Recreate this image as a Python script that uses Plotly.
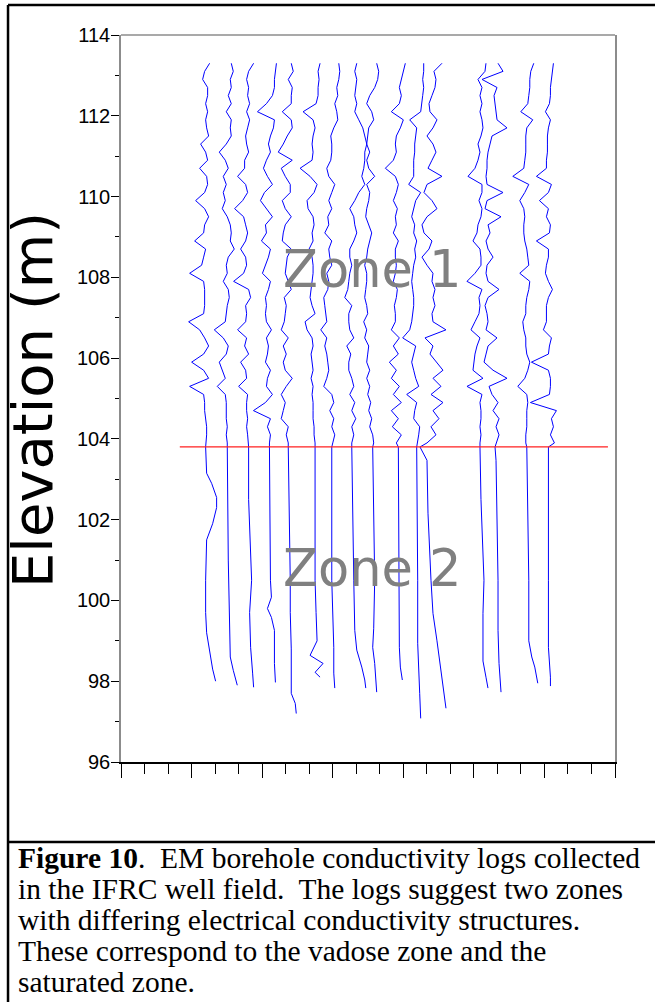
import plotly.graph_objects as go

# ---------------- data ----------------
# shared sampling elevations (m) for the vadose zone (Zone 1)
ELEV_Z1 = [113.3, 113.1, 112.9, 112.7, 112.5, 112.3, 112.1, 111.9, 111.7, 111.5,
           111.3, 111.1, 110.9, 110.7, 110.5, 110.3, 110.1, 109.9, 109.7, 109.5,
           109.3, 109.1, 108.9, 108.7, 108.5, 108.3, 108.1, 107.9, 107.7, 107.5,
           107.3, 107.1, 106.9, 106.7, 106.5, 106.3, 106.1, 105.9, 105.7, 105.5,
           105.3, 105.1, 104.9, 104.7, 104.5, 104.3, 104.1, 103.9]

# horizontal plotting offset of each borehole log (axis units)
LOG_OFFSETS = [3.64, 4.56, 5.34, 6.31, 7.11, 8.25, 8.96, 9.81,
               10.70, 11.79, 12.57, 12.71, 15.26, 15.90, 17.25, 18.17]

# conductivity anomaly scale (axis units per mS/m)
COND_SCALE = 0.0425

# Zone 1 conductivity anomalies (mS/m) at ELEV_Z1
Z1_LOG01 = [3, -2, -4, 1, 1, -1, 1, -1, 0, 2, -6, -1, 1, -7, 0, 1, -2, -11, -2, 2, -2, -3, -12, -1,
            -3, -5, -17, -3, -2, -2, -2, -3, -18, -7, -2, 2, -3, -15, -3, 2, -17, -3, -2, -2, -1, 0, 0, -1]
Z1_LOG02 = [3, 5, 2, 3, 0, 3, -2, 3, 2, 3, -2, -9, -3, 0, -5, -2, -5, -3, -6, -1, 2, 3, 2, 6,
            0, -2, -1, -5, 0, 1, -1, -2, -3, -14, -5, 0, -2, -9, -6, -3, -11, -3, -2, -2, -2, -1, -2, -1]
Z1_LOG03 = [7, 2, 0, 2, 1, 3, 0, 3, 1, -1, 0, 2, -2, -2, -9, -1, 1, -4, -12, -3, -1, 1, -1, -6,
            -1, 0, -3, -13, 2, 4, -1, 0, -1, -9, 0, -2, 2, -6, -1, 0, -8, 1, 0, 0, 1, 0, 1, 2]
Z1_LOG04 = [7, 6, 5, 5, 3, -3, -12, 5, 4, 1, -1, 1, -3, -6, -2, 3, -5, -9, -3, 3, -4, -3, -8, 1,
            -1, -4, -7, 1, -1, -4, -3, -4, -3, 2, -3, -1, -2, -4, 1, -2, -3, 3, -4, -16, 1, -2, 1, 0]
Z1_LOG05 = [3, 5, 0, 4, 3, 3, -6, 3, 4, -1, -5, -10, 4, -7, -3, 2, 2, -6, -3, 3, -3, -5, -6, 3,
            -1, -2, -3, 0, 3, -4, -2, -3, -4, -7, 0, -5, -2, -5, -3, 4, -2, -7, -3, -5, -7, 0, -2, 0]
Z1_LOG06 = [5, 3, 4, 3, 3, 1, -12, -2, 0, -2, -3, -2, -3, -15, -5, 2, -1, -8, -7, -2, -1, -3, -2, -6,
            -3, -2, -2, -3, -4, -5, -3, 0, -10, -8, -3, -2, -4, -3, -2, -4, -2, -3, -2, -2, -2, -1, -1, 0]
Z1_LOG07 = [7, 8, 7, 5, 6, 3, 5, 6, 2, -1, 0, 0, -1, -5, -3, 3, 0, -3, 0, -4, -3, -7, 0, -3,
            -2, 0, -5, -3, -4, -8, -7, -6, -5, -11, -5, -7, -5, -4, -3, -5, -8, 0, 2, -2, 2, 0, 3, 1]
Z1_LOG08 = [5, 3, 5, 4, 3, 5, 3, 7, 11, 13, 15, 13, 13, 12, 10, 13, 7, 3, -2, 2, 3, 5, 2, -2,
            -2, 0, -2, -3, -4, -7, 0, -3, -3, -2, 2, -5, -1, -3, -3, 0, 2, -2, 3, 0, 4, 0, 2, 0]
Z1_LOG09 = [4, 6, 5, 2, -3, -6, -1, 1, -4, -5, -6, -3, -6, -4, 2, -6, -3, -4, -6, -7, -4, -1, -3, -5,
            -6, -8, -6, -6, -7, -8, -6, -5, -9, -6, -8, -4, -5, -6, -3, -6, -3, -5, -2, -4, -1, -3, 0, 1]
Z1_LOG10 = [7, 5, 3, 1, 3, 1, -7, 5, 2, -2, -3, -2, -5, -13, -3, 0, -2, -5, -1, -3, -2, -5, 0, -3,
            -3, -2, -3, -5, -1, -2, -4, -3, -3, -7, 1, -5, 0, -9, -2, -7, 1, -5, 3, -7, 0, -6, 3, -2]
Z1_LOG11 = [7, 7, 6, 7, 6, 5, 4, -7, 0, -1, -2, -2, -3, -3, -3, -8, 4, -1, -3, -5, -2, -3, 0, -2,
            -1, -3, -4, -5, -4, -3, -3, -4, -5, -7, -14, -1, -3, -5, -3, -1, 2, -10, 0, -2, -3, 3, 2, 1]
Z1_LOG12 = [22, 14, 16, 15, 12, 9, 10, 17, 13, 7, 13, 16, 12, 8, 22, 7, 4, 12, 17, 7, 2, 4, 12, 9,
            2, 7, 13, 12, 15, 13, 15, 12, 13, 26, 5, 13, 10, 17, 23, 13, 21, 11, 23, 13, 19, 11, 16, 7]
Z1_LOG13 = [6, 5, -2, 2, 0, 2, 0, 2, 3, 1, -2, 0, -2, -5, -12, 2, 2, -1, 2, 1, -2, -3, -7, 0,
            1, 1, -5, -13, 2, -1, 0, -1, -5, -9, 0, -3, -5, -6, -7, 3, -13, 2, 0, 1, 1, 0, 1, 0]
Z1_LOG14 = [3, 8, -13, 2, -1, 0, 1, 2, 12, -3, -5, -7, -8, -8, -9, -8, 8, -8, -10, 6, -7, -5, -9, -7,
            -2, -8, -9, -7, 4, -7, -10, -8, -7, -9, 2, -7, -9, -11, -2, 12, -6, -3, 3, -2, 4, 1, 4, 1]
Z1_LOG15 = [7, 4, 3, 3, 2, 1, -6, 6, 0, -1, -1, -1, -2, -3, -14, 2, -2, -7, -3, -2, -3, -3, -2, 0,
            1, 2, -7, 3, 2, 0, -1, -1, -4, -3, -1, -1, 0, 3, 1, -2, -9, 0, 1, 0, 0, 0, -1, -1]
Z1_LOG16 = [5, 4, 3, 2, 2, 1, -3, 2, 0, -1, -1, -1, -2, -2, -12, 3, 0, -9, 0, -2, 2, 1, -12, 0,
            0, -2, -3, 0, 4, 0, -2, -2, -2, -5, 3, 1, 0, -17, 0, 2, 2, 1, -18, 8, 3, 5, 2, 6]

# Zone 2 (saturated zone): elevations and anomalies for each log
Z2_ELEV_LOG01 = [103.8, 103.15, 102.9, 102.55, 102.3, 101.9, 101.5, 100.5, 99.7, 99.2, 98.7, 98.3, 98.0]
Z2_VAL_LOG01 = [-1, 0, 5, 10, 10, 6, 0, -1, -1, 0, 3, 6, 9]
Z2_ELEV_LOG02 = [103.8, 101.0, 99.7, 98.6, 98.27, 97.9]
Z2_VAL_LOG02 = [-1, 0, 1, 2, 5, 9]
Z2_ELEV_LOG03 = [103.8, 102.5, 101.3, 100.5, 99.7, 98.84, 98.2, 97.85]
Z2_VAL_LOG03 = [2, 2, 4, 5, 3, 4, 6, 7]
Z2_ELEV_LOG04 = [103.8, 100.5, 100.08, 99.8, 99.58, 99.26, 98.44, 97.97]
Z2_VAL_LOG04 = [0, 1, 2, -2, 2, 5, 5, 6]
Z2_ELEV_LOG05 = [103.8, 100.5, 99.7, 98.8, 97.7, 97.45, 97.2]
Z2_VAL_LOG05 = [0, 2, 2, 3, 3, 7, 8]
Z2_ELEV_LOG06 = [103.8, 100.5, 99.7, 99.0, 98.64, 98.44, 98.22, 98.1]
Z2_VAL_LOG06 = [0, 0, 1, 2, -5, 8, 0, 5]
Z2_ELEV_LOG07 = [103.8, 100.5, 99.7, 98.84, 98.2, 97.83]
Z2_VAL_LOG07 = [0, 0, 1, 2, 2, 3]
Z2_ELEV_LOG08 = [103.8, 100.5, 99.26, 98.77, 98.35, 98.03, 97.83]
Z2_VAL_LOG08 = [0, 2, 3, 5, 10, 13, 14]
Z2_ELEV_LOG09 = [103.8, 100.5, 99.3, 98.84, 98.44, 97.73]
Z2_VAL_LOG09 = [0, 2, 1, 0, 2, 4]
Z2_ELEV_LOG10 = [103.8, 100.5, 98.84, 98.35, 98.03]
Z2_VAL_LOG10 = [0, 1, 1, 2, 4]
Z2_ELEV_LOG11 = [103.8, 100.5, 98.94, 97.7, 97.08]
Z2_VAL_LOG11 = [0, 1, 1, 3, 4]
Z2_ELEV_LOG12 = [103.8, 103.47, 102.16, 100.5, 99.68, 99.0, 98.44, 97.78, 97.33]
Z2_VAL_LOG12 = [0, 7, 8, 11, 13, 17, 20, 24, 26]
Z2_ELEV_LOG13 = [103.8, 102.5, 100.5, 99.68, 98.5, 98.1, 97.83]
Z2_VAL_LOG13 = [0, 1, 4, 3, 3, 6, 8]
Z2_ELEV_LOG14 = [103.8, 103.47, 100.5, 99.26, 98.44, 97.73]
Z2_VAL_LOG14 = [0, 1, 3, 3, 4, 6]
Z2_ELEV_LOG15 = [103.8, 100.5, 99.0, 98.6, 98.35, 97.95]
Z2_VAL_LOG15 = [0, 2, 2, 5, 8, 11]
Z2_ELEV_LOG16 = [103.8, 100.5, 98.84, 98.1, 97.88]
Z2_VAL_LOG16 = [0, 0, 0, 2, 2]

WATER_TABLE = 103.8
WATER_TABLE_X = [2.5, 20.7]

ZONE_LABELS = ["Zone 1", "Zone 2"]
ZONE_LABEL_POS = [(10.71, 108.2), (10.71, 100.8)]

Y_TITLE = "Elevation (m)"
CAPTION_LINES = [
    "<b>Figure 10</b>.\u00a0 EM borehole conductivity logs collected",
    "in the IFRC well field.\u00a0 The logs suggest two zones",
    "with differing electrical conductivity structures.",
    "These correspond to the vadose zone and the",
    "saturated zone.",
]

# ---------------- figure ----------------
Z1_ALL = [Z1_LOG01, Z1_LOG02, Z1_LOG03, Z1_LOG04, Z1_LOG05, Z1_LOG06, Z1_LOG07, Z1_LOG08,
          Z1_LOG09, Z1_LOG10, Z1_LOG11, Z1_LOG12, Z1_LOG13, Z1_LOG14, Z1_LOG15, Z1_LOG16]
Z2E_ALL = [Z2_ELEV_LOG01, Z2_ELEV_LOG02, Z2_ELEV_LOG03, Z2_ELEV_LOG04, Z2_ELEV_LOG05,
           Z2_ELEV_LOG06, Z2_ELEV_LOG07, Z2_ELEV_LOG08, Z2_ELEV_LOG09, Z2_ELEV_LOG10,
           Z2_ELEV_LOG11, Z2_ELEV_LOG12, Z2_ELEV_LOG13, Z2_ELEV_LOG14, Z2_ELEV_LOG15,
           Z2_ELEV_LOG16]
Z2V_ALL = [Z2_VAL_LOG01, Z2_VAL_LOG02, Z2_VAL_LOG03, Z2_VAL_LOG04, Z2_VAL_LOG05,
           Z2_VAL_LOG06, Z2_VAL_LOG07, Z2_VAL_LOG08, Z2_VAL_LOG09, Z2_VAL_LOG10,
           Z2_VAL_LOG11, Z2_VAL_LOG12, Z2_VAL_LOG13, Z2_VAL_LOG14, Z2_VAL_LOG15,
           Z2_VAL_LOG16]

fig = go.Figure()
for off, z1, e2, v2 in zip(LOG_OFFSETS, Z1_ALL, Z2E_ALL, Z2V_ALL):
    xs = [off + COND_SCALE * v for v in z1 + v2]
    ys = ELEV_Z1 + e2
    fig.add_trace(go.Scatter(x=xs, y=ys, mode="lines",
                             line=dict(color="#0000ff", width=1),
                             showlegend=False, hoverinfo="skip"))

fig.add_trace(go.Scatter(x=WATER_TABLE_X, y=[WATER_TABLE, WATER_TABLE], mode="lines",
                         line=dict(color="#ff2020", width=1.3),
                         showlegend=False, hoverinfo="skip"))

for label, (lx, ly) in zip(ZONE_LABELS, ZONE_LABEL_POS):
    fig.add_annotation(x=lx, y=ly, xref="x", yref="y", text=label, showarrow=False,
                       font=dict(family="DejaVu Sans", size=51, color="#808080"),
                       xanchor="center", yanchor="middle")

fig.add_annotation(x=-0.178, y=0.498, xref="paper", yref="paper", text=Y_TITLE,
                   showarrow=False, textangle=-90,
                   font=dict(family="DejaVu Sans", size=56, color="black"),
                   xanchor="center", yanchor="middle")

CAP_Y = [-0.132, -0.1747, -0.2173, -0.260, -0.3026]
for line, cy in zip(CAPTION_LINES, CAP_Y):
    fig.add_annotation(x=-0.2126, y=cy, xref="paper", yref="paper", text=line,
                       showarrow=False, xanchor="left", yanchor="middle",
                       font=dict(family="Liberation Serif", size=29.5, color="black"))

# frame lines
fig.add_shape(type="line", xref="paper", yref="paper", x0=0, x1=1, y0=1, y1=1,
              line=dict(color="#8c8c8c", width=1.5))
fig.add_shape(type="line", xref="paper", yref="paper", x0=-0.2287, x1=1.2, y0=1.0413, y1=1.0413,
              line=dict(color="black", width=2.5))
fig.add_shape(type="line", xref="paper", yref="paper", x0=-0.2287, x1=-0.2287, y0=1.0413, y1=-0.5,
              line=dict(color="black", width=2.5))
fig.add_shape(type="line", xref="paper", yref="paper", x0=-0.2287, x1=1.2, y0=-0.110, y1=-0.110,
              line=dict(color="black", width=2.5))

fig.update_layout(
    width=655, height=1002,
    margin=dict(l=121, r=40, t=35, b=240),
    paper_bgcolor="white", plot_bgcolor="white",
    showlegend=False,
    xaxis=dict(range=[0, 21], showgrid=False, zeroline=False, showticklabels=False,
               ticks="outside", tick0=0, dtick=3, ticklen=14, tickwidth=1, tickcolor="black",
               minor=dict(dtick=1, ticks="outside", ticklen=10, tickwidth=1, tickcolor="black"),
               showline=True, linecolor="black", linewidth=1.5, mirror=False),
    yaxis=dict(range=[96, 114], showgrid=False, zeroline=False,
               ticks="outside", tick0=96, dtick=2, ticklen=8, tickwidth=1, tickcolor="black",
               minor=dict(dtick=1, ticks="outside", ticklen=4, tickwidth=1, tickcolor="black"),
               showline=True, linecolor="#8c8c8c", linewidth=1.5, mirror=True,
               ticklabelstandoff=-3,
               tickfont=dict(family="Liberation Sans", size=20, color="black")),
)

fig.write_html(
    "out.html",
    config={"displayModeBar": False},
    post_script="document.body.style.margin='0';document.body.style.overflow='hidden';",
)
